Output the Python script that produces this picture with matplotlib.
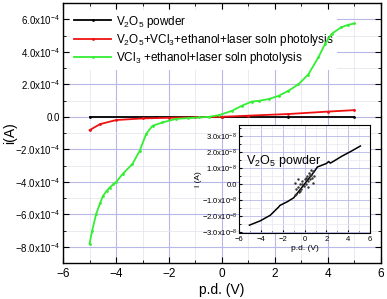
import numpy as np
import matplotlib
matplotlib.use('Agg')
import matplotlib.pyplot as plt
from matplotlib.ticker import MultipleLocator, FuncFormatter

plt.rcParams['font.family'] = ['Liberation Sans', 'DejaVu Sans']
plt.rcParams['mathtext.fontset'] = 'custom'
plt.rcParams['mathtext.rm'] = 'Liberation Sans'

# main curves, pd (V) / current (A)
v_black = [-5.0, -2.5, 0.0, 2.5, 5.0]
i_black = [0.0, 0.0, 0.0, 0.0, 0.0]

v_red = [-5.0, -4.6, -4.0, -3.0, -2.0, -1.0, 0.0, 1.0, 2.5, 4.0, 5.0]
i_red = [-0.82e-4, -0.45e-4, -0.2e-4, -0.1e-4, -0.06e-4, -0.03e-4, 0.0,
         0.07e-4, 0.17e-4, 0.32e-4, 0.41e-4]

v_green = [-5.0, -4.9, -4.75, -4.6, -4.49, -4.35, -4.24, -4.1, -3.99, -3.74,
           -3.38, -3.11, -2.86, -2.62, -2.25, -1.74, -1.3, -0.86, -0.49,
           -0.11, 0.38, 0.75, 1.13, 1.39, 1.76, 2.14, 2.51, 2.89, 3.26,
           3.64, 3.89, 4.14, 4.5, 4.75, 5.0]
i_green = [-7.8e-4, -7.0e-4, -5.97e-4, -5.3e-4, -4.86e-4, -4.55e-4, -4.35e-4,
           -4.15e-4, -4.0e-4, -3.5e-4, -2.9e-4, -2.1e-4, -1.05e-4, -0.55e-4,
           -0.35e-4, -0.13e-4, -0.08e-4, -0.04e-4, 0.0, 0.1e-4, 0.37e-4,
           0.68e-4, 0.94e-4, 0.98e-4, 1.09e-4, 1.29e-4, 1.6e-4, 2.0e-4,
           2.6e-4, 3.65e-4, 4.47e-4, 5.1e-4, 5.5e-4, 5.65e-4, 5.74e-4]

# inset: V2O5 powder, current in 1e-8 A
v_ins = [-5.05, -4.06, -3.14, -2.37, -2.25, -1.6, -1.0, 0.86, 1.17, 2.0,
         2.2, 2.35, 2.56, 3.4, 4.25, 5.1]
i_ins = [-2.56, -2.29, -1.94, -1.42, -1.32, -1.1, -0.85, 0.77, 1.08, 1.3,
         1.42, 1.32, 1.4, 1.75, 2.06, 2.39]
v_scat = [-0.9, -0.8, -0.75, -0.6, -0.5, -0.4, -0.3, -0.2, -0.1, 0.0, 0.1,
          0.2, 0.3, 0.4, 0.5, 0.6, 0.7, 0.8, 0.9, -0.85, -0.65, -0.45, -0.25,
          0.15, 0.35, 0.55, 0.75, 0.45]
i_scat = [0.1, -0.3, -0.6, -0.2, -0.5, 0.0, -0.3, 0.2, -0.1, 0.3, 0.0,
          0.5, 0.2, 0.7, 0.3, 0.9, 0.4, 0.8, 0.5, -0.7, 0.3, -0.4, 0.0,
          0.4, -0.2, 0.6, 0.1, 0.6]

major_grid = '#b8b8e8'
minor_grid = '#e6e6ee'

fig = plt.figure(figsize=(3.87, 2.99), dpi=100)
ax = fig.add_axes([0.163, 0.12, 0.821, 0.87])

ax.plot(v_black, i_black, color='black', lw=1.3, marker='.', ms=2, zorder=3,
        label=r'V$_2$O$_5$ powder')
ax.plot(v_red, i_red, color='#ee1111', lw=1.3, marker='.', ms=2, zorder=3,
        label=r'V$_2$O$_5$+VCl$_3$+ethanol+laser soln photolysis')
ax.plot(v_green, i_green, color='#33ee33', lw=1.3, marker='.', ms=2, zorder=3,
        label=r'VCl$_3$ +ethanol+laser soln photolysis')

ax.set_xlim(-6, 6)
ax.set_ylim(-9e-4, 7e-4)
ax.xaxis.set_major_locator(MultipleLocator(2))
ax.xaxis.set_minor_locator(MultipleLocator(1))
ax.yaxis.set_major_locator(MultipleLocator(2e-4))
ax.yaxis.set_minor_locator(MultipleLocator(1e-4))


def fmt_main(y, pos):
    m = round(y / 1e-4, 1)
    if abs(m) < 1e-9:
        return '0.0'
    return r'$\mathregular{%.1fx10^{-4}}$' % m


ax.yaxis.set_major_formatter(FuncFormatter(fmt_main))
ax.grid(which='major', color=major_grid, lw=0.8)
ax.grid(which='minor', color=minor_grid, lw=0.6)
ax.set_axisbelow(True)
ax.tick_params(which='both', direction='in', top=True, right=True)
ax.tick_params(axis='x', labelsize=8.5)
ax.tick_params(axis='y', labelsize=7, pad=2.5)
ax.tick_params(which='major', length=4)
ax.tick_params(which='minor', length=2)
ax.set_xlabel('p.d. (V)', fontsize=10, labelpad=2)
ax.set_ylabel('i(A)', fontsize=10)
ax.yaxis.set_label_coords(-0.145, 0.5)
for s in ax.spines.values():
    s.set_linewidth(1.0)

leg = ax.legend(loc='upper left', fontsize=8.5, frameon=True, handlelength=3.2,
                borderaxespad=0.6, labelspacing=0.2, handletextpad=0.4,
                borderpad=0.3)
leg.get_frame().set_edgecolor('none')
leg.get_frame().set_alpha(1)
leg.set_zorder(2)

# inset
axi = fig.add_axes([0.6176, 0.2207, 0.339, 0.361])
axi.plot(v_ins, i_ins, color='black', lw=1.1)
axi.plot(v_scat, i_scat, ls='none', marker='.', ms=1.5, color='#333333')
axi.set_xlim(-6, 6)
axi.set_ylim(-3.05, 3.7)
axi.xaxis.set_major_locator(MultipleLocator(2))
axi.xaxis.set_minor_locator(MultipleLocator(1))
axi.yaxis.set_major_locator(MultipleLocator(1))
axi.yaxis.set_minor_locator(MultipleLocator(0.5))


def fmt_ins(y, pos):
    if abs(y) < 1e-9:
        return '0.0'
    return r'$\mathregular{%.1fx10^{-8}}$' % y


axi.yaxis.set_major_formatter(FuncFormatter(fmt_ins))
axi.grid(which='major', color=major_grid, lw=0.6)
axi.grid(which='minor', color=minor_grid, lw=0.5)
axi.set_axisbelow(True)
axi.tick_params(which='both', direction='in', labelsize=5.5, pad=1.5)
axi.tick_params(axis='x', pad=2.5)
axi.tick_params(which='major', length=2.5)
axi.tick_params(which='minor', length=1.5)
axi.set_xlabel('p.d. (V)', fontsize=6, labelpad=1)
axi.set_ylabel('I (A)', fontsize=6, labelpad=0)
axi.text(-5.4, 1.25, r'V$_2$O$_5$ powder', fontsize=9)

fig.savefig('out.png', dpi=100)
